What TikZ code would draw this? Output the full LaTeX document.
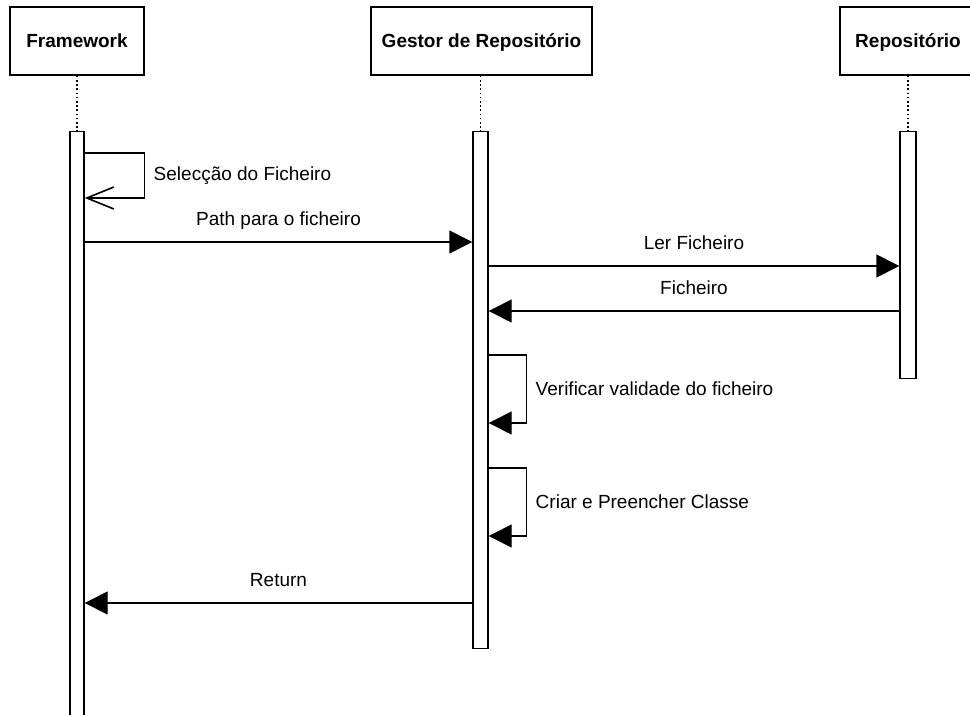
\documentclass[tikz,border=0pt]{standalone}
\usepackage{fontspec}
\setmainfont{Liberation Sans}
\usetikzlibrary{arrows.meta}

\begin{document}
\begin{tikzpicture}[x=1pt,y=-1pt,
    font=\fontsize{19}{23}\selectfont, line width=1.4pt,
    actor/.style={draw, line width=1.6pt, minimum height=68pt, text height=16pt, text depth=4pt, font=\fontsize{19}{23}\selectfont\bfseries},
    bar/.style={draw, fill=white, inner sep=0pt, anchor=north},
    lifeline/.style={line width=1.6pt, dash pattern=on 1.6pt off 2.6pt},
    msg/.style={-{Triangle[length=23pt,width=23pt]}},
    call/.style={-{Straight Barb[length=27pt,width=22pt,line width=1.6pt]}},
    txt/.style={anchor=base, yshift=17pt}]
                \clip (0,0) rectangle (970,715);
                \node[actor, minimum width=134pt] (Fw) at (77,41) {Framework};
                \node[actor, minimum width=221pt] (Gr) at (481.5,41) {Gestor de Repositório};
                \node[actor, minimum width=136pt] (Rp) at (908,41) {Repositório};
                \node[bar, minimum width=14pt, minimum height=600pt] (FwBar) at (77,131) {};
                \node[bar, minimum width=15pt, minimum height=517pt] (GrBar) at (480.5,131) {};
                \node[bar, minimum width=16pt, minimum height=247pt] (RpBar) at (908,131) {};
                \draw[lifeline] (Fw.south) -- (FwBar.north);
                \draw[lifeline] (Gr.south -| GrBar.north) -- (GrBar.north);
                \draw[lifeline] (Rp.south) -- (RpBar.north);
                \draw[call] (FwBar.east |- 0,153) -- ++(60,0) |- node[pos=0.25, right=5pt]{Selecção do Ficheiro} (FwBar.east |- 0,198);
                \draw[msg] (FwBar.east |- 0,242) -- node[txt]{Path para o ficheiro} (GrBar.west |- 0,242);
                \draw[msg] (GrBar.east |- 0,266) -- node[txt]{Ler Ficheiro} (RpBar.west |- 0,266);
                \draw[msg] (RpBar.west |- 0,311) -- node[txt]{Ficheiro} (GrBar.east |- 0,311);
                \draw[msg] (GrBar.east |- 0,355) -- ++(38,0) |- node[pos=0.25, right=5pt]{Verificar validade do ficheiro} (GrBar.east |- 0,423);
                \draw[msg] (GrBar.east |- 0,468) -- ++(38,0) |- node[pos=0.25, right=5pt]{Criar e Preencher Classe} (GrBar.east |- 0,536);
                \draw[msg] (GrBar.west |- 0,603) -- node[txt]{Return} (FwBar.east |- 0,603);
\end{tikzpicture}
\end{document}
